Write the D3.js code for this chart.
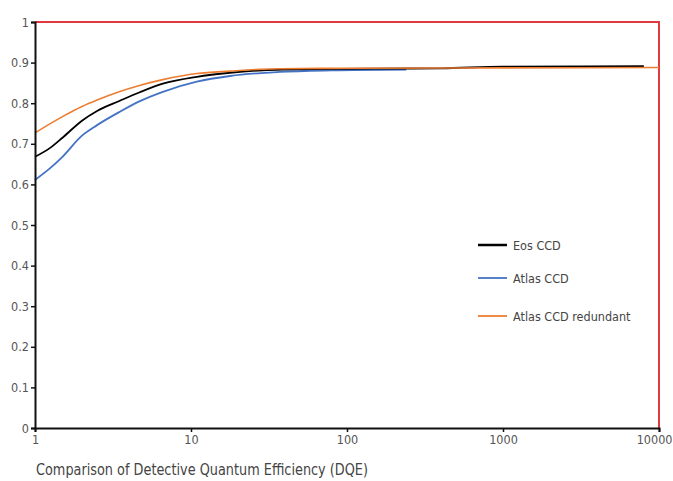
<!DOCTYPE html>
<html>
<head>
<meta charset="utf-8">
<script src="https://cdn.jsdelivr.net/npm/d3@7"></script>
<style>
  body { margin: 0; background: #fff; }
  text { font-family: "Liberation Sans Narrow", "DejaVu Sans Condensed", "Liberation Sans", sans-serif; }
</style>
</head>
<body>
<div id="chart"></div>
<script>
// exposure values (x, log scale) and DQE for each detector
var eosX = [1, 1.25, 1.5, 2, 2.5, 3.5, 4.7, 6.6, 10.9, 17.8, 29, 60, 150, 400, 1000, 8000];
var eosY = [0.668, 0.690, 0.715, 0.757, 0.781, 0.806, 0.827, 0.848, 0.865, 0.875, 0.881, 0.884, 0.885, 0.886, 0.890, 0.891];

var atlasX = [1, 1.25, 1.5, 2, 2.5, 3.5, 4.7, 6.6, 10.9, 17.8, 37, 80, 240];
var atlasY = [0.611, 0.640, 0.668, 0.720, 0.746, 0.779, 0.805, 0.828, 0.853, 0.867, 0.877, 0.881, 0.883];

var redX = [1, 1.5, 2, 2.5, 3.5, 4.5, 6.6, 10.9, 17.8, 37, 100, 1000, 10000];
var redY = [0.727, 0.767, 0.792, 0.808, 0.829, 0.842, 0.858, 0.873, 0.879, 0.885, 0.886, 0.887, 0.888];

var legendNames = ["Eos CCD", "Atlas CCD", "Atlas CCD redundant"];
var legendColors = ["#000000", "#4472c4", "#ed7d31"];

var xTicks = [1, 10, 100, 1000, 10000];
var yTicks = [0, 0.1, 0.2, 0.3, 0.4, 0.5, 0.6, 0.7, 0.8, 0.9, 1];

var W = 673, H = 481;
var margin = {top: 22, right: 14, bottom: 53, left: 35};

var svg = d3.select("#chart").append("svg")
  .attr("width", W)
  .attr("height", H);

var x = d3.scaleLog().domain([1, 10000]).range([margin.left, W - margin.right]);
var y = d3.scaleLinear().domain([0, 1]).range([H - margin.bottom, margin.top]);

// red frame on top and right
svg.append("path")
  .attr("d", "M" + x(1) + "," + y(1) + "H" + x(10000) + "V" + y(0))
  .attr("fill", "none")
  .attr("stroke", "#e0393e")
  .attr("stroke-width", 2);

var line = d3.line()
  .x(d => x(d[0]))
  .y(d => y(d[1]))
  .curve(d3.curveMonotoneX);

function series(xs, ys) {
  return xs.map((v, i) => [v, ys[i]]);
}

svg.append("path").datum(series(atlasX, atlasY))
  .attr("d", line).attr("fill", "none")
  .attr("stroke", legendColors[1]).attr("stroke-width", 1.8);
svg.append("path").datum(series(eosX, eosY))
  .attr("d", line).attr("fill", "none")
  .attr("stroke", legendColors[0]).attr("stroke-width", 1.8);
svg.append("path").datum(series(redX, redY))
  .attr("d", line).attr("fill", "none")
  .attr("stroke", legendColors[2]).attr("stroke-width", 1.6);

// axes
var yAxis = svg.append("g")
  .attr("transform", "translate(" + margin.left + ",0)")
  .call(d3.axisLeft(y).tickValues(yTicks).tickSize(4).tickPadding(2)
    .tickFormat(d => String(+d.toFixed(1))));
var xAxis = svg.append("g")
  .attr("transform", "translate(0," + (H - margin.bottom) + ")")
  .call(d3.axisBottom(x).tickValues(xTicks).tickSize(4).tickPadding(3)
    .tickFormat(d3.format("d")));

[yAxis, xAxis].forEach(g => {
  g.select(".domain").attr("stroke", "#111").attr("stroke-width", 2);
  g.selectAll(".tick line").attr("stroke", "#111").attr("stroke-width", 1.5);
  g.selectAll(".tick text").attr("fill", "#555").attr("font-size", 12.5)
    .style("font-family", "'Liberation Sans Narrow', 'DejaVu Sans Condensed', sans-serif");
});
// last x label would run off the edge, keep it inside
xAxis.selectAll(".tick text").filter(d => d === 10000)
  .attr("text-anchor", "end").attr("x", W - 1 - x(10000));

// legend
var leg = svg.append("g");
var legY = [245, 278, 316];
legendNames.forEach((name, i) => {
  leg.append("line")
    .attr("x1", 478).attr("x2", 507)
    .attr("y1", legY[i]).attr("y2", legY[i])
    .attr("stroke", legendColors[i]).attr("stroke-width", i === 0 ? 2.5 : 1.8);
  leg.append("text")
    .attr("x", 513).attr("y", legY[i] + 5)
    .attr("font-size", 12.5).attr("fill", "#444")
    .text(name);
});

svg.append("text")
  .attr("x", 36).attr("y", 475)
  .attr("font-size", 15).attr("fill", "#444")
  .attr("textLength", 332).attr("lengthAdjust", "spacingAndGlyphs")
  .text("Comparison of Detective Quantum Efficiency (DQE)");
</script>
</body>
</html>
